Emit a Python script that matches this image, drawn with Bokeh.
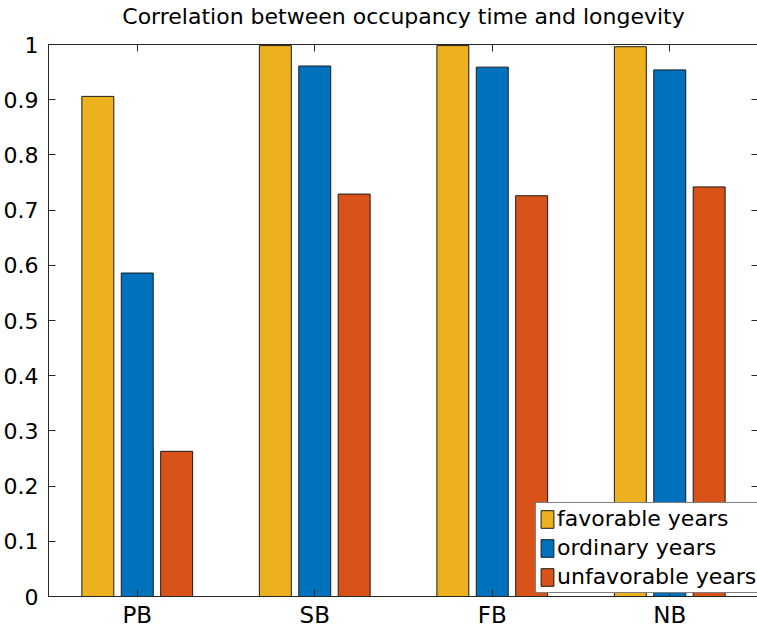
from bokeh.plotting import figure
from bokeh.models import (ColumnDataSource, FactorRange, Range1d, LinearAxis, CategoricalAxis,
                          FixedTicker, NumeralTickFormatter, Legend, LegendItem,
                          CustomLabelingPolicy)
from bokeh.transform import dodge
from bokeh.embed import file_html
from bokeh.resources import INLINE

categories = ["PB", "SB", "FB", "NB"]
favorable = [0.906, 0.998, 0.998, 0.996]
ordinary = [0.586, 0.961, 0.959, 0.954]
unfavorable = [0.263, 0.729, 0.726, 0.742]
series_names = ["favorable years", "ordinary years", "unfavorable years"]
y_ticks = [0, 0.1, 0.2, 0.3, 0.4, 0.5, 0.6, 0.7, 0.8, 0.9, 1.0]
title_text = "Correlation between occupancy time and longevity"

colors = ["#EDB120", "#0072BD", "#D95319"]
offsets = [-0.222, 0.0, 0.222]
FONT = "DejaVu Sans"
AX = "#262626"

src = ColumnDataSource(dict(cat=categories, favorable=favorable,
                            ordinary=ordinary, unfavorable=unfavorable))

p = figure(x_range=FactorRange(*categories), y_range=Range1d(0, 1),
           frame_width=710, frame_height=552,
           min_border_left=46, min_border_right=1, min_border_top=43, min_border_bottom=32,
           output_backend="svg", toolbar_location=None)

p.xgrid.visible = False
p.ygrid.visible = False
p.outline_line_color = AX
p.outline_line_width = 1
p.background_fill_color = "white"
p.border_fill_color = "white"

renderers = []
for key, col, off in zip(["favorable", "ordinary", "unfavorable"], colors, offsets):
    r = p.vbar(x=dodge("cat", off, range=p.x_range), top=key, width=0.18, bottom=0,
               source=src, fill_color=col, line_color="#1a1a1a", line_width=1)
    renderers.append(r)

# bottom / left axes
xa = p.xaxis[0]
xa.major_tick_in = 7
xa.major_tick_out = 0
xa.major_label_standoff = 5
xa.major_label_text_font = FONT
xa.major_label_text_font_size = "23px"
xa.major_label_text_color = "#000000"
xa.axis_line_color = AX
xa.major_tick_line_color = AX

ya = p.yaxis[0]
ya.ticker = FixedTicker(ticks=y_ticks)
ya.formatter = NumeralTickFormatter(format="0.[0]")
ya.major_tick_in = 7
ya.major_tick_out = 0
ya.minor_tick_in = 0
ya.minor_tick_out = 0
ya.major_label_standoff = 10
ya.major_label_text_font = FONT
ya.major_label_text_font_size = "22px"
ya.major_label_text_color = "#000000"
ya.axis_line_color = AX
ya.major_tick_line_color = AX

# mirrored ticks (top / right), tick labels suppressed; the chart title sits on the top axis
def no_labels():
    return CustomLabelingPolicy(code="for (const i of Array.from(indices)) { indices.unset(i) } return indices")

ta = CategoricalAxis(major_tick_in=7, major_tick_out=0, major_label_standoff=0,
                     major_label_text_font_size="0px", axis_line_color=AX,
                     major_tick_line_color=AX, major_label_policy=no_labels(),
                     axis_label=title_text, axis_label_standoff=16,
                     axis_label_text_font=FONT, axis_label_text_font_size="22px",
                     axis_label_text_font_style="normal", axis_label_text_color="#000000")
p.add_layout(ta, "above")
ra = LinearAxis(ticker=FixedTicker(ticks=y_ticks), major_tick_in=7, major_tick_out=0,
                minor_tick_in=0, minor_tick_out=0, major_label_standoff=0,
                major_label_text_font_size="0px", axis_line_color=AX,
                major_tick_line_color=AX, major_label_policy=no_labels())
p.add_layout(ra, "right")

legend = Legend(items=[LegendItem(label=n, renderers=[r]) for n, r in zip(series_names, renderers)],
                location=(487, 3), orientation="vertical",
                glyph_width=16, glyph_height=22, label_standoff=2,
                label_text_font=FONT, label_text_font_size="22px", label_height=22,
                label_text_color="#000000",
                spacing=4, padding=3, margin=0,
                border_line_color="#000000", border_line_width=1,
                background_fill_color="white", background_fill_alpha=1.0)
p.add_layout(legend, "center")

open("out.html", "w").write(file_html(p, INLINE))
